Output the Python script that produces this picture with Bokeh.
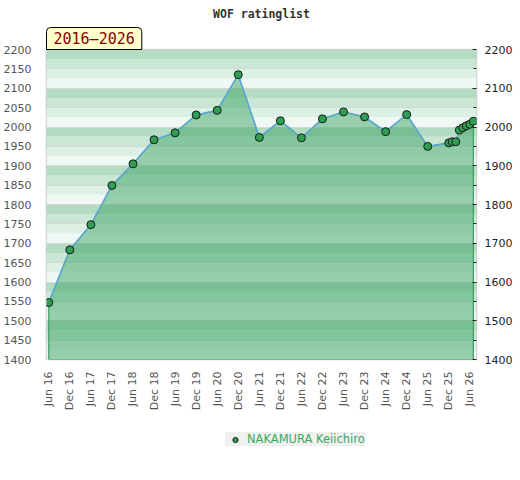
import math
from bokeh.plotting import figure
from bokeh.layouts import column
from bokeh.models import (Range1d, LinearAxis, FixedTicker, Legend, LegendItem,
                          Title)
from bokeh.embed import file_html
from bokeh.resources import INLINE

# ---- data (months since June 2016, rating) ----
months = [0, 6, 12, 18, 24, 30, 36, 42, 48, 54, 60, 66, 72, 78, 84, 90, 96,
          102, 108, 114, 115, 116, 117, 118, 119, 120, 121]
ratings = [1547, 1683, 1748, 1849, 1905, 1967, 1985, 2031, 2043, 2135, 1973,
           2016, 1972, 2021, 2039, 2026, 1988, 2032, 1950, 1959, 1962, 1962,
           1992, 1998, 2003, 2007, 2015]
tick_months = [0, 6, 12, 18, 24, 30, 36, 42, 48, 54, 60, 66, 72, 78, 84, 90,
               96, 102, 108, 114, 120]
tick_labels = ["Jun 16", "Dec 16", "Jun 17", "Dec 17", "Jun 18", "Dec 18",
               "Jun 19", "Dec 19", "Jun 20", "Dec 20", "Jun 21", "Dec 21",
               "Jun 22", "Dec 22", "Jun 23", "Dec 23", "Jun 24", "Dec 24",
               "Jun 25", "Dec 25", "Jun 26"]
left_ticks = list(range(1400, 2201, 50))
right_ticks = list(range(1400, 2201, 100))
right_minor = list(range(1450, 2200, 100))
player = "NAKAMURA Keiichiro"
title_text = "WOF ratinglist"
period_text = "2016\u20132026"

y_min, y_max = 1400, 2200
x_min, x_max = -0.65, 121.9
band = 25
band_colors = ["#eff8f3", "#ddf0e5", "#c9e7d4", "#b3dcc2"]

fw, fh = 430, 310
p = figure(frame_width=fw, frame_height=fh,
           x_range=Range1d(x_min, x_max),
           y_range=Range1d(y_min, y_max), output_backend="svg",
           toolbar_location=None, min_border_left=37, min_border_right=37,
           min_border_top=0, min_border_bottom=0)
p.background_fill_color = "white"
p.border_fill_color = "white"
p.outline_line_color = "#cfcfcf"
p.outline_line_width = 1.5

# striped background bands
bottoms = list(range(y_min, y_max, band))
cols = [band_colors[((b - y_min) % 100) // band] for b in bottoms]
p.quad(left=x_min, right=x_max, bottom=bottoms, top=[b + band for b in bottoms],
       fill_color=cols, line_color=None, level="image")

# grid
p.xgrid.visible = False
p.ygrid.ticker = FixedTicker(ticks=left_ticks)
p.ygrid.grid_line_color = "#d6d6d6"
p.ygrid.grid_line_width = 1

# area
p.patch(x=[months[0]] + months + [months[-1]],
        y=[y_min] + ratings + [y_min],
        fill_color="#35a260", fill_alpha=0.47,
        line_color="#3a9d5d", line_width=1.2)
p.line(months, ratings, line_color="#5fa8dc", line_width=1.5)
marker_style = dict(size=8, fill_color="#2e9e52", line_color="#1a1a1a", line_width=1)
p.scatter(months, ratings, **marker_style)

# left axis
ya = p.yaxis[0]
ya.ticker = FixedTicker(ticks=left_ticks)
ya.axis_line_color = None
ya.major_tick_line_color = None
ya.minor_tick_line_color = None
ya.major_label_text_color = "#555555"
ya.major_label_text_font = "DejaVu Sans"
ya.major_label_text_font_size = "11px"
ya.major_label_standoff = 9

# right axis
ra = LinearAxis(ticker=FixedTicker(ticks=right_ticks, minor_ticks=right_minor))
ra.axis_line_color = None
ra.major_tick_in = 4
ra.major_tick_out = 0
ra.minor_tick_in = 3
ra.minor_tick_out = 0
ra.major_tick_line_color = "#222222"
ra.minor_tick_line_color = "#222222"
ra.major_label_text_color = "#222222"
ra.major_label_text_font = "DejaVu Sans"
ra.major_label_text_font_size = "11px"
ra.major_label_standoff = 8
p.add_layout(ra, "right")

# bottom axis
xa = p.xaxis[0]
xa.ticker = FixedTicker(ticks=tick_months)
xa.major_label_overrides = {m: l for m, l in zip(tick_months, tick_labels)}
xa.major_label_orientation = math.pi / 2
xa.axis_line_color = None
xa.major_tick_line_color = None
xa.minor_tick_line_color = None
xa.major_tick_in = 0
xa.major_tick_out = 0
xa.minor_tick_in = 0
xa.minor_tick_out = 0
xa.major_label_text_color = "#555555"
xa.major_label_text_font = "DejaVu Sans"
xa.major_label_text_font_size = "11px"
xa.major_label_standoff = 12

# period tag (nearest the frame) and chart title above it
tag = Title(text=period_text, align="left", offset=0, standoff=0,
            text_font="DejaVu Sans Mono", text_font_size="15px",
            text_font_style="normal", text_color="#8b0000",
            background_fill_color="#ffffcc", border_line_color="#000000",
            border_line_width=1,
            padding=dict(left=7, right=7, top=2, bottom=2),
            border_radius=dict(top_left=4, top_right=4, bottom_right=0, bottom_left=0))
p.add_layout(tag, "above")
ttl = Title(text=title_text, align="center", standoff=9,
            text_font="DejaVu Sans Mono", text_font_size="11.5px",
            text_font_style="bold", text_color="#333333")
p.add_layout(ttl, "above")

# legend strip below the chart (its key renderer's points lie outside this view)
p2 = figure(width=504, height=54, x_range=Range1d(0, 1), y_range=Range1d(0, 1),
            output_backend="svg", toolbar_location=None, min_border=0)
p2.axis.visible = False
p2.grid.visible = False
p2.outline_line_color = None
p2.background_fill_color = "white"
p2.border_fill_color = "white"
key = p2.scatter(months, ratings, **marker_style)
legend = Legend(items=[LegendItem(label=player, renderers=[key])],
                location=(179, 21), orientation="horizontal")
legend.background_fill_color = "#f0f0f0"
legend.background_fill_alpha = 1
legend.border_line_color = None
legend.label_text_color = "#3aa85c"
legend.label_text_font = "DejaVu Sans"
legend.label_text_font_size = "11.5px"
legend.padding = 3
legend.glyph_width = 20
legend.glyph_height = 13
legend.label_height = 13
legend.label_standoff = 2
legend.margin = 0
p2.add_layout(legend, "center")

open("out.html", "w").write(file_html(column(p, p2), INLINE))
